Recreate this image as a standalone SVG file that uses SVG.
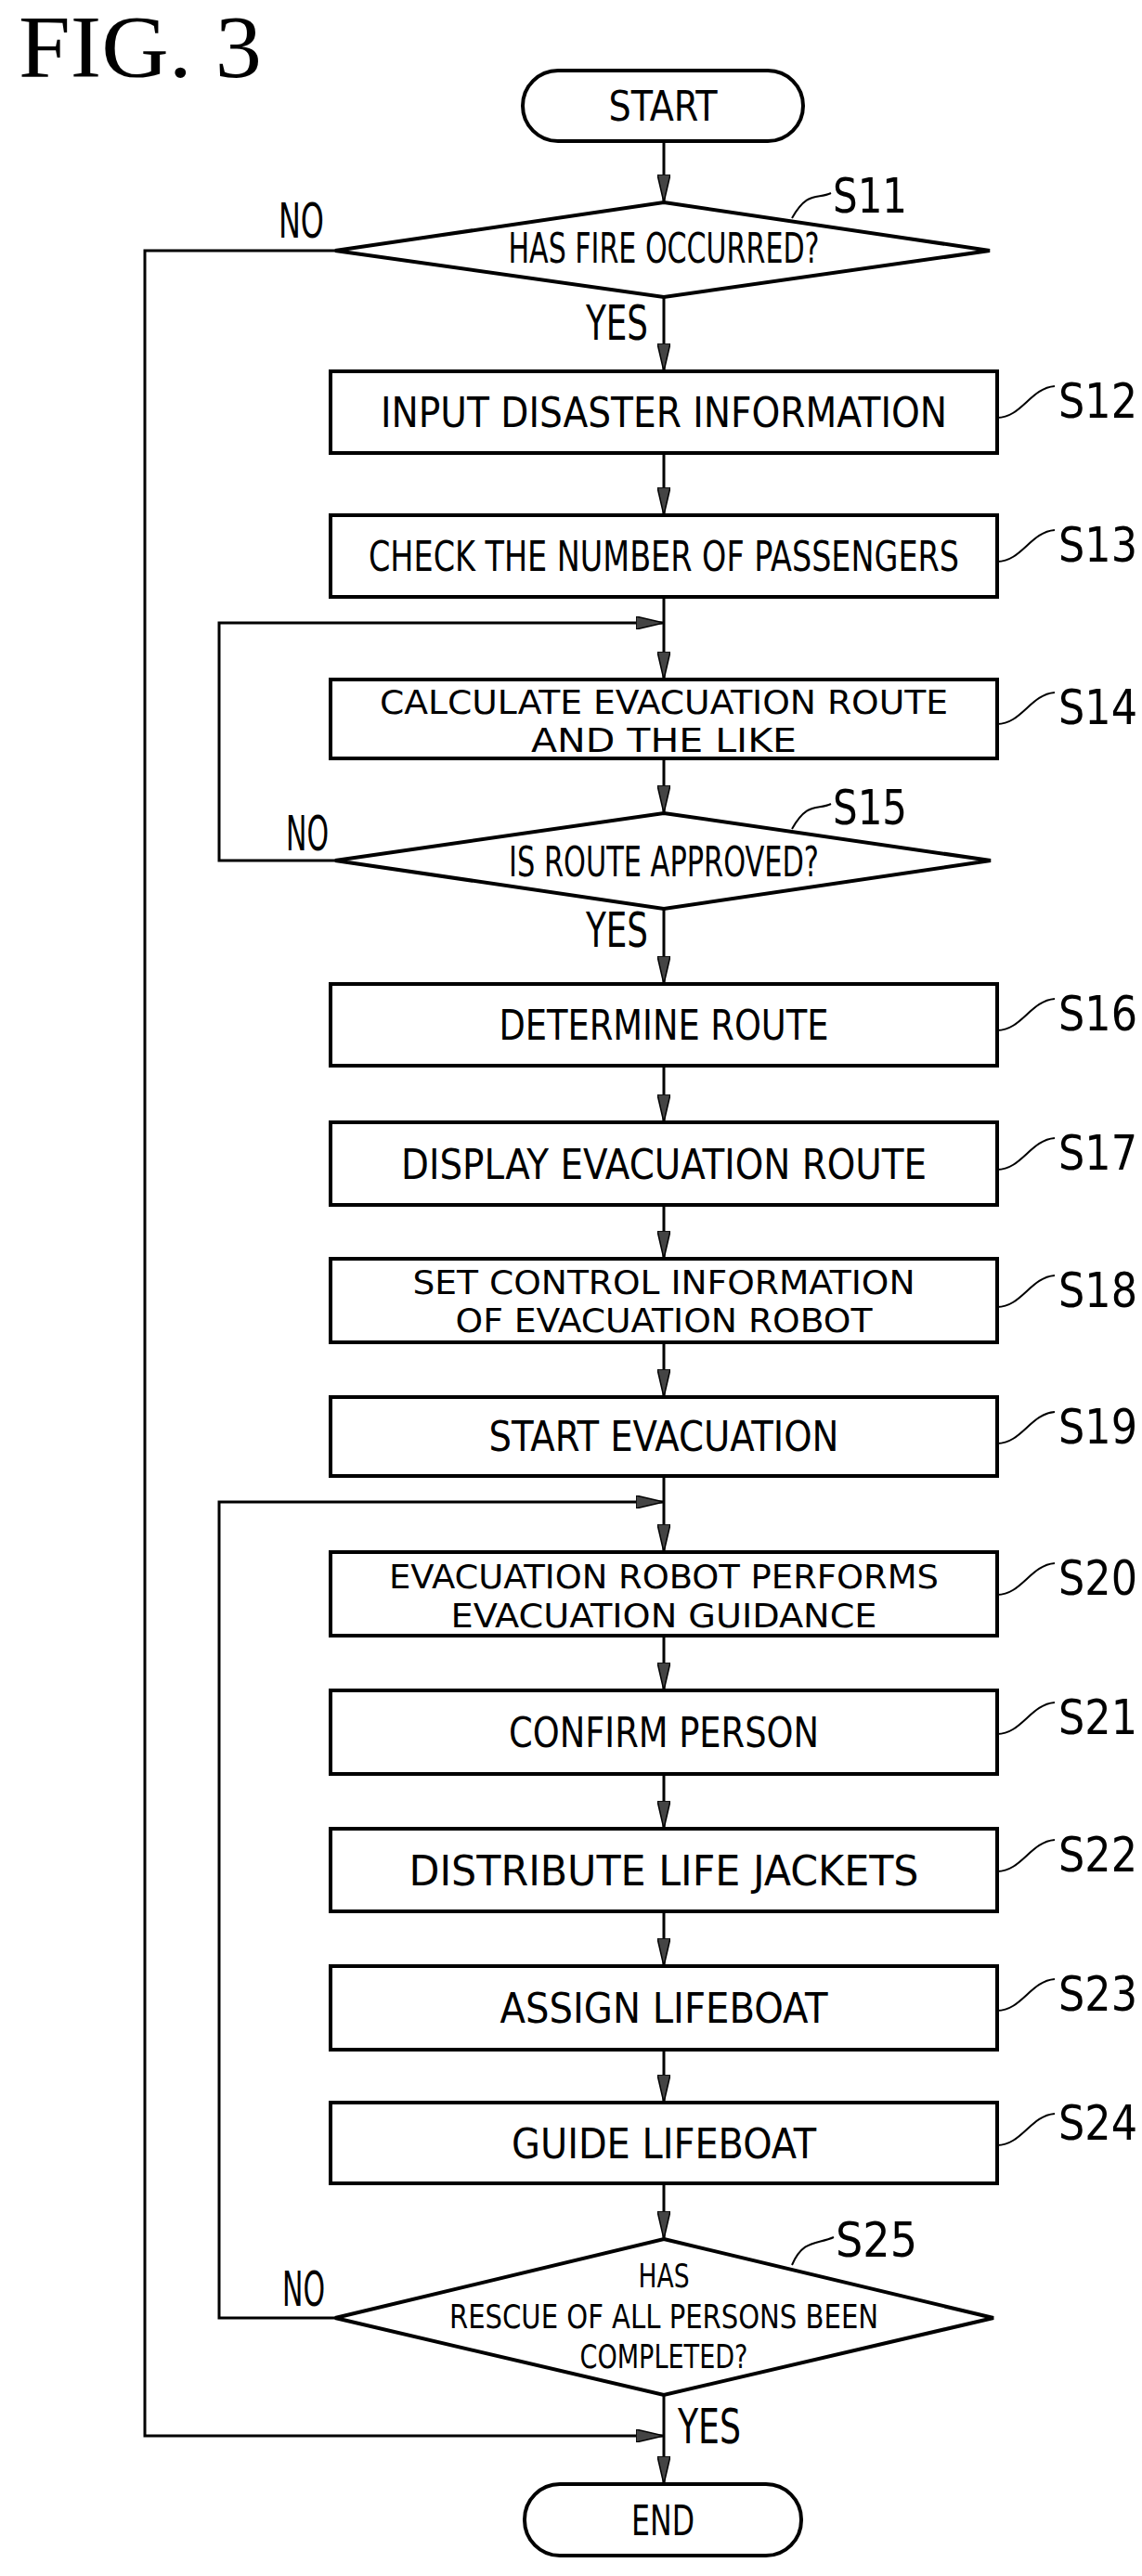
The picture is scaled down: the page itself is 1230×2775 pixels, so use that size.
<svg xmlns="http://www.w3.org/2000/svg" width="1230" height="2775" viewBox="0 0 1230 2775">
<style>
.t{font-family:"DejaVu Sans Condensed","Liberation Sans Narrow","Liberation Sans",sans-serif;font-size:44px;fill:#000;text-anchor:middle}
.m{font-size:35px}
.l{font-family:"DejaVu Sans Condensed","Liberation Sans Narrow","Liberation Sans",sans-serif;font-size:52px;fill:#000}
.s{fill:#fff;stroke:#000;stroke-width:4}
.c{fill:none;stroke:#000;stroke-width:3}
.q{fill:none;stroke:#000;stroke-width:2}
</style>
<defs>
<marker id="a" viewBox="0 0 30 14" refX="30" refY="7" markerWidth="30" markerHeight="14" markerUnits="userSpaceOnUse" orient="auto">
<polygon points="0,0 30,7 0,14" fill="#444" stroke="#000" stroke-width="1.5"/>
</marker>
</defs>
<rect width="1230" height="2775" fill="#fff"/>
<text x="20" y="83" font-family="Liberation Serif,serif" font-size="96" textLength="262" lengthAdjust="spacingAndGlyphs">FIG.  3</text>

<g id="connectors">
<path class="c" d="M715 152V218" marker-end="url(#a)"/>
<path class="c" d="M715 320V400" marker-end="url(#a)"/>
<path class="c" d="M715 488V555" marker-end="url(#a)"/>
<path class="c" d="M715 643V732" marker-end="url(#a)"/>
<path class="c" d="M715 817V876" marker-end="url(#a)"/>
<path class="c" d="M715 979V1060" marker-end="url(#a)"/>
<path class="c" d="M715 1148V1209" marker-end="url(#a)"/>
<path class="c" d="M715 1298V1356" marker-end="url(#a)"/>
<path class="c" d="M715 1446V1505" marker-end="url(#a)"/>
<path class="c" d="M715 1590V1672" marker-end="url(#a)"/>
<path class="c" d="M715 1762V1821" marker-end="url(#a)"/>
<path class="c" d="M715 1911V1970" marker-end="url(#a)"/>
<path class="c" d="M715 2059V2118" marker-end="url(#a)"/>
<path class="c" d="M715 2208V2265" marker-end="url(#a)"/>
<path class="c" d="M715 2352V2412" marker-end="url(#a)"/>
<path class="c" d="M715 2580V2676" marker-end="url(#a)"/>
<path class="c" d="M361 927H236V671H715" marker-end="url(#a)"/>
<path class="c" d="M361 2497H236V1618H715" marker-end="url(#a)"/>
<path class="c" d="M361 270H156V2624H715" marker-end="url(#a)"/>
<text class="l" x="300" y="256" font-size="46" textLength="49" lengthAdjust="spacingAndGlyphs">NO</text>
<text class="l" x="631" y="366" font-size="46" textLength="67" lengthAdjust="spacingAndGlyphs">YES</text>
<text class="l" x="308" y="916" font-size="46" textLength="46" lengthAdjust="spacingAndGlyphs">NO</text>
<text class="l" x="631" y="1020" font-size="46" textLength="67" lengthAdjust="spacingAndGlyphs">YES</text>
<text class="l" x="304" y="2484" font-size="46" textLength="46" lengthAdjust="spacingAndGlyphs">NO</text>
<text class="l" x="730" y="2632" font-size="46" textLength="68" lengthAdjust="spacingAndGlyphs">YES</text>
</g>

<g id="start"><rect class="s" x="563" y="76" width="302" height="76" rx="38"/><text class="t" x="714" y="130" textLength="117" lengthAdjust="spacingAndGlyphs">START</text></g>

<g id="S11"><polygon class="s" points="715,218 1066,270 715,320 361,270"/><text class="t" x="715" y="283" textLength="335" lengthAdjust="spacingAndGlyphs">HAS FIRE OCCURRED?</text>
<path class="q" d="M853 235C870 205 880 215 895 208"/><text class="l" x="897" y="229" textLength="80" lengthAdjust="spacingAndGlyphs">S11</text></g>

<g id="S12"><rect class="s" x="356" y="400" width="718" height="88"/><text class="t" x="715" y="460" textLength="610" lengthAdjust="spacingAndGlyphs">INPUT DISASTER INFORMATION</text>
<path class="q" d="M1074 450C1100 450 1110 418 1136 416"/><text class="l" x="1140" y="450" textLength="85" lengthAdjust="spacingAndGlyphs">S12</text></g>

<g id="S13"><rect class="s" x="356" y="555" width="718" height="88"/><text class="t" x="715" y="615" textLength="636" lengthAdjust="spacingAndGlyphs">CHECK THE NUMBER OF PASSENGERS</text>
<path class="q" d="M1074 605C1100 605 1110 573 1136 571"/><text class="l" x="1140" y="605" textLength="85" lengthAdjust="spacingAndGlyphs">S13</text></g>

<g id="S14"><rect class="s" x="356" y="732" width="718" height="85"/><text class="t m" x="715" y="769" textLength="612" lengthAdjust="spacingAndGlyphs">CALCULATE EVACUATION ROUTE</text><text class="t m" x="715" y="810" textLength="286" lengthAdjust="spacingAndGlyphs">AND THE LIKE</text>
<path class="q" d="M1074 780C1100 780 1110 748 1136 746"/><text class="l" x="1140" y="780" textLength="85" lengthAdjust="spacingAndGlyphs">S14</text></g>

<g id="S15"><polygon class="s" points="715,876 1067,927 715,979 361,927"/><text class="t" x="715" y="944" textLength="334" lengthAdjust="spacingAndGlyphs">IS ROUTE APPROVED?</text>
<path class="q" d="M853 893C870 863 880 873 895 866"/><text class="l" x="897" y="888" textLength="80" lengthAdjust="spacingAndGlyphs">S15</text></g>

<g id="S16"><rect class="s" x="356" y="1060" width="718" height="88"/><text class="t" x="715" y="1120" textLength="355" lengthAdjust="spacingAndGlyphs">DETERMINE ROUTE</text>
<path class="q" d="M1074 1110C1100 1110 1110 1078 1136 1076"/><text class="l" x="1140" y="1110" textLength="85" lengthAdjust="spacingAndGlyphs">S16</text></g>

<g id="S17"><rect class="s" x="356" y="1209" width="718" height="89"/><text class="t" x="715" y="1270" textLength="566" lengthAdjust="spacingAndGlyphs">DISPLAY EVACUATION ROUTE</text>
<path class="q" d="M1074 1260C1100 1260 1110 1228 1136 1226"/><text class="l" x="1140" y="1260" textLength="85" lengthAdjust="spacingAndGlyphs">S17</text></g>

<g id="S18"><rect class="s" x="356" y="1356" width="718" height="90"/><text class="t m" x="715" y="1394" textLength="541" lengthAdjust="spacingAndGlyphs">SET CONTROL INFORMATION</text><text class="t m" x="715" y="1435" textLength="449" lengthAdjust="spacingAndGlyphs">OF EVACUATION ROBOT</text>
<path class="q" d="M1074 1408C1100 1408 1110 1376 1136 1374"/><text class="l" x="1140" y="1408" textLength="85" lengthAdjust="spacingAndGlyphs">S18</text></g>

<g id="S19"><rect class="s" x="356" y="1505" width="718" height="85"/><text class="t" x="715" y="1563" textLength="377" lengthAdjust="spacingAndGlyphs">START EVACUATION</text>
<path class="q" d="M1074 1555C1100 1555 1110 1523 1136 1521"/><text class="l" x="1140" y="1555" textLength="85" lengthAdjust="spacingAndGlyphs">S19</text></g>

<g id="S20"><rect class="s" x="356" y="1672" width="718" height="90"/><text class="t m" x="715" y="1711" textLength="592" lengthAdjust="spacingAndGlyphs">EVACUATION ROBOT PERFORMS</text><text class="t m" x="715" y="1753" textLength="459" lengthAdjust="spacingAndGlyphs">EVACUATION GUIDANCE</text>
<path class="q" d="M1074 1718C1100 1718 1110 1686 1136 1684"/><text class="l" x="1140" y="1718" textLength="85" lengthAdjust="spacingAndGlyphs">S20</text></g>

<g id="S21"><rect class="s" x="356" y="1821" width="718" height="90"/><text class="t" x="715" y="1882" textLength="334" lengthAdjust="spacingAndGlyphs">CONFIRM PERSON</text>
<path class="q" d="M1074 1868C1100 1868 1110 1836 1136 1834"/><text class="l" x="1140" y="1868" textLength="85" lengthAdjust="spacingAndGlyphs">S21</text></g>

<g id="S22"><rect class="s" x="356" y="1970" width="718" height="89"/><text class="t" x="715" y="2031" textLength="549" lengthAdjust="spacingAndGlyphs">DISTRIBUTE LIFE JACKETS</text>
<path class="q" d="M1074 2016C1100 2016 1110 1984 1136 1982"/><text class="l" x="1140" y="2016" textLength="85" lengthAdjust="spacingAndGlyphs">S22</text></g>

<g id="S23"><rect class="s" x="356" y="2118" width="718" height="90"/><text class="t" x="715" y="2179" textLength="353" lengthAdjust="spacingAndGlyphs">ASSIGN LIFEBOAT</text>
<path class="q" d="M1074 2166C1100 2166 1110 2134 1136 2132"/><text class="l" x="1140" y="2166" textLength="85" lengthAdjust="spacingAndGlyphs">S23</text></g>

<g id="S24"><rect class="s" x="356" y="2265" width="718" height="87"/><text class="t" x="715" y="2325" textLength="328" lengthAdjust="spacingAndGlyphs">GUIDE LIFEBOAT</text>
<path class="q" d="M1074 2311C1100 2311 1110 2279 1136 2277"/><text class="l" x="1140" y="2305" textLength="85" lengthAdjust="spacingAndGlyphs">S24</text></g>

<g id="S25"><polygon class="s" points="715,2412 1070,2497 715,2580 361,2497"/><text class="t m" x="715" y="2464" textLength="55" lengthAdjust="spacingAndGlyphs">HAS</text><text class="t m" x="715" y="2508" textLength="462" lengthAdjust="spacingAndGlyphs">RESCUE OF ALL PERSONS BEEN</text><text class="t m" x="715" y="2551" textLength="181" lengthAdjust="spacingAndGlyphs">COMPLETED?</text>
<path class="q" d="M853 2440C865 2412 880 2418 898 2410"/><text class="l" x="900" y="2431" textLength="88" lengthAdjust="spacingAndGlyphs">S25</text></g>

<g id="end"><rect class="s" x="565" y="2676" width="298" height="77" rx="38"/><text class="t" x="714" y="2731" textLength="68" lengthAdjust="spacingAndGlyphs">END</text></g>
</svg>
